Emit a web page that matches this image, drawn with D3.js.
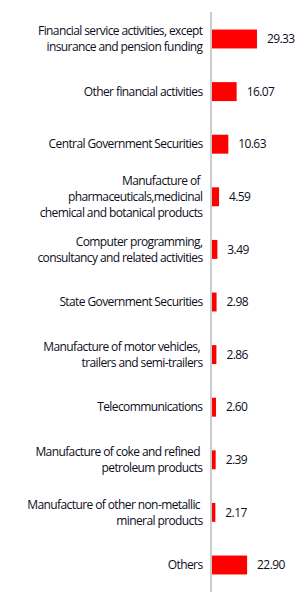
<!DOCTYPE html>
<html><head><meta charset="utf-8">
<script src="https://cdn.jsdelivr.net/npm/d3@7"></script>
<style>
html,body{margin:0;padding:0;background:#fff;}
text{white-space:pre;}
</style></head>
<body><svg id="c" width="308" height="616"></svg>
<script>
const categories = [
  ["Financial service activities, except","insurance and pension funding"],
  ["Other financial activities"],
  ["Central Government Securities"],
  ["Manufacture of ","pharmaceuticals,medicinal","chemical and botanical products"],
  ["Computer programming,","consultancy and related activities"],
  ["State Government Securities"],
  ["Manufacture of motor vehicles, ","trailers and semi-trailers"],
  ["Telecommunications"],
  ["Manufacture of coke and refined ","petroleum products"],
  ["Manufacture of other non-metallic ","mineral products"],
  ["Others"]
];
const values = [29.33, 16.07, 10.63, 4.59, 3.49, 2.98, 2.86, 2.60, 2.39, 2.17, 22.90];
const valueLabels = ["29.33","16.07","10.63","4.59","3.49","2.98","2.86","2.60","2.39","2.17","22.90"];

const svg = d3.select("#c");
const x0 = 212;
const x = d3.scaleLinear().domain([0, 30]).range([x0, x0 + 46]);
const y = d3.scaleBand().domain(d3.range(values.length)).range([12.7, 591.3]).paddingInner(0.64).paddingOuter(0.32);

const font = "'Open Sans', sans-serif";
const fs = 12;
const ls = -0.6;

svg.selectAll("rect.bar").data(values).join("rect")
  .attr("class","bar")
  .attr("x", x(0))
  .attr("y", (d,i)=>y(i))
  .attr("width", d=>x(d)-x(0))
  .attr("height", y.bandwidth())
  .attr("fill", "#ff0000");

svg.append("line")
  .attr("x1", x0-1).attr("x2", x0-1)
  .attr("y1", 12).attr("y2", 592)
  .attr("stroke", "#cccccc").attr("stroke-width", 2);

const lh = 16;
const g = svg.selectAll("text.lab").data(categories).join("text")
  .attr("class","lab")
  .attr("text-anchor","end")
  .attr("font-family", font).attr("font-size", fs)
  .attr("letter-spacing", ls)
  .attr("fill", "#0d0d1a");
g.each(function(lines, i){
  const cy = y(i) + y.bandwidth()/2;
  const n = lines.length;
  d3.select(this).selectAll("tspan").data(lines).join("tspan")
    .attr("x", 202.5)
    .attr("y", (d,j)=> cy + (j - (n-1)/2)*lh)
    .attr("dy", "0.35em")
    .text(d=>d);
});

svg.selectAll("text.val").data(values).join("text")
  .attr("class","val")
  .attr("x", d=>x(d)+10)
  .attr("y", (d,i)=>y(i)+y.bandwidth()/2)
  .attr("dy","0.35em")
  .attr("font-family", font).attr("font-size", fs)
  .attr("letter-spacing", ls)
  .attr("fill","#0d0d1a")
  .text((d,i)=>valueLabels[i]);
</script></body></html>
